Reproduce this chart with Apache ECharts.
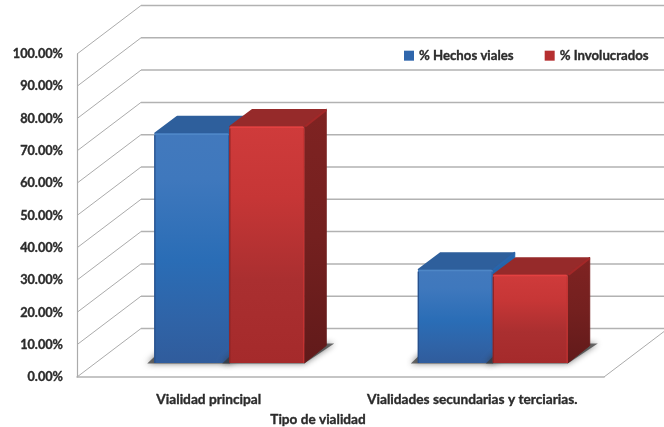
<!DOCTYPE html>
<html>
<head>
<meta charset="utf-8">
<style>html,body{margin:0;padding:0;background:#fff}#c{width:664px;height:427px}</style>
<script src="https://cdn.jsdelivr.net/npm/echarts@6/dist/echarts.min.js"></script>
</head>
<body>
<div id="c"></div>
<script>
const categories = ['Vialidad principal', 'Vialidades secundarias y terciarias.'];
const hechosViales = [71.1, 28.9];
const involucrados = [73.2, 27.3];
const wallTicks = [0, 10, 20, 30, 40, 50, 60, 70, 80, 90, 100];

const WALL_DX = 64, WALL_DY = -48.5;      // depth of the floor / walls
const BAR_BASE_DX = 20.5, BAR_BASE_DY = -14; // where bars stand on the floor
const BAR_DX = 22, BAR_DY = -17.5;        // depth of a bar
const BAR_W = 0.2846;                     // share of the band

const grad = (stops, x2 = 0, y2 = 1) => ({
  type: 'linear', x: 0, y: 0, x2, y2,
  colorStops: stops.map(([offset, color]) => ({ offset, color }))
});

const BLUE = {
  front: grad([[0, '#4279bd'], [0.2, '#3f78bd'], [0.55, '#2a6db6'], [0.8, '#2f64a8'], [1, '#305c9c']]),
  top: '#2e5f9c',
  side: grad([[0, '#2566ae'], [0.5, '#22609f'], [1, '#1f4f86']]),
  edge: '#5088c8', left: '#274f8a', right: '#2a5fa3', slant: '#2a64aa', legend: '#2f66ac'
};
const RED = {
  front: grad([[0, '#cf3b3b'], [0.3, '#c63636'], [0.65, '#aa2f30'], [1, '#a52a2b']]),
  top: '#962a2a',
  side: grad([[0, '#7f2322'], [0.5, '#74201f'], [1, '#611a1a']]),
  edge: '#e64242', left: '#8e2425', right: '#c43332', slant: '#a32828', legend: '#b62f30'
};

function barItem(pal, side) {
  return function (params, api) {
    const p = api.coord([api.value(0), api.value(1)]);
    const zero = api.coord([api.value(0), 0]);
    const w = api.size([1, 0])[0] * BAR_W;
    const x0 = p[0] + BAR_BASE_DX + (side < 0 ? -w : 0);
    const x1 = x0 + w;
    const yT = p[1] + BAR_BASE_DY;
    const yB = zero[1] + BAR_BASE_DY;
    const stroke = (c, lw) => ({ stroke: c, lineWidth: lw, lineJoin: 'round' });
    const children = [
      { type: 'polygon', shape: { points: [[x0 - 7, yB + 0.5], [x1, yB + 0.5], [x1 + BAR_DX + 8, yB + BAR_DY - 2], [x0 + 14, yB + BAR_DY - 2]] },
        style: { fill: 'rgba(55,55,55,0.72)', shadowBlur: 6, shadowColor: 'rgba(50,50,50,0.9)' }, silent: true },
      { type: 'polygon', shape: { points: [[x1, yT], [x1 + BAR_DX, yT + BAR_DY], [x1 + BAR_DX, yB + BAR_DY], [x1, yB]] },
        style: Object.assign({ fill: pal.side }, stroke(pal.side, 1)) },
      { type: 'polygon', shape: { points: [[x0 + 1, yT], [x0 + BAR_DX + 1, yT + BAR_DY + 1], [x1 + BAR_DX - 1, yT + BAR_DY + 1], [x1 - 1, yT]] },
        style: Object.assign({ fill: pal.top }, stroke(pal.top, 2)) },
      { type: 'line', shape: { x1: x1 + 1, y1: yT, x2: x1 + BAR_DX, y2: yT + BAR_DY + 1 },
        style: { stroke: pal.slant, lineWidth: 2 } },
      { type: 'rect', shape: { x: x0, y: yT, width: w, height: yB - yT, r: [2, 2, 1, 1] },
        style: { fill: pal.front } },
      { type: 'line', shape: { x1: x0 + 1, y1: yT + 0.8, x2: x1 - 1, y2: yT + 0.8 },
        style: { stroke: pal.edge, lineWidth: 1.5, opacity: 0.9 } },
      { type: 'line', shape: { x1: x0 + 0.6, y1: yT + 2, x2: x0 + 0.6, y2: yB },
        style: { stroke: pal.left, lineWidth: 1.2 } },
      { type: 'line', shape: { x1: x1 - 0.6, y1: yT + 2, x2: x1 - 0.6, y2: yB },
        style: { stroke: pal.right, lineWidth: 1.2 } }
    ];
    return { type: 'group', children };
  };
}

function wallItem(params, api) {
  const cs = params.coordSys;
  const y = api.coord([0, api.value(0)])[1];
  const children = [
    { type: 'line', shape: { x1: cs.x, y1: y, x2: cs.x + WALL_DX, y2: y + WALL_DY },
      style: { stroke: '#ababab', lineWidth: 1 } },
    { type: 'line', shape: { x1: cs.x + WALL_DX, y1: y + WALL_DY, x2: cs.x + cs.width + WALL_DX, y2: y + WALL_DY },
      style: { stroke: '#b2b2b2', lineWidth: 1.5 } }
  ];
  if (api.value(0) === 0) {
    children.push({ type: 'line', shape: { x1: cs.x + cs.width, y1: y, x2: cs.x + cs.width + WALL_DX, y2: y + WALL_DY },
      style: { stroke: '#ababab', lineWidth: 1 } });
  }
  return { type: 'group', children };
}

const FONT = 'Lato';
const TEXT = { fontFamily: FONT, fontWeight: 'bold', color: '#2b2b2b', textBorderColor: '#2b2b2b', textBorderWidth: 0.35 };
const chart = echarts.init(document.getElementById('c'), null, { renderer: 'canvas' });
chart.setOption({
  animation: false,
  backgroundColor: '#ffffff',
  grid: { left: 77, right: 60, top: 54, bottom: 50, containLabel: false, outerBoundsMode: 'none' },
  legend: {
    left: 404, top: 49, padding: 0, itemWidth: 10, itemHeight: 10, itemGap: 31,
    textStyle: Object.assign({ fontSize: 13.2 }, TEXT),
    data: [
      { name: '% Hechos viales', icon: 'rect', itemStyle: { color: BLUE.legend } },
      { name: '% Involucrados', icon: 'rect', itemStyle: { color: RED.legend } }
    ]
  },
  xAxis: {
    type: 'category', data: categories,
    name: 'Tipo de vialidad', nameLocation: 'middle', nameGap: 34,
    nameTextStyle: Object.assign({ fontSize: 13.6, padding: [0, 45, 0, 0] }, TEXT),
    axisTick: { show: false },
    axisLine: { show: true, lineStyle: { color: '#b2b2b2', width: 1.5 } },
    axisLabel: Object.assign({ fontSize: 13.7, margin: 16, interval: 0 }, TEXT)
  },
  yAxis: {
    type: 'value', min: 0, max: 100, interval: 10,
    axisTick: { show: false },
    axisLine: { show: true, lineStyle: { color: '#ababab', width: 1.2 } },
    splitLine: { show: false },
    axisLabel: Object.assign({ fontSize: 12.7, margin: 14, formatter: v => v.toFixed(2) + '%' }, TEXT)
  },
  series: [
    { type: 'custom', name: 'walls', renderItem: wallItem, data: wallTicks.map(v => [v]),
      encode: { y: 0 }, silent: true, z: 1, clip: false },
    { type: 'custom', name: '% Hechos viales', renderItem: barItem(BLUE, -1),
      data: hechosViales.map((v, i) => [i, v]), encode: { x: 0, y: 1 }, z: 2, clip: false,
      itemStyle: { color: BLUE.legend } },
    { type: 'custom', name: '% Involucrados', renderItem: barItem(RED, 1),
      data: involucrados.map((v, i) => [i, v]), encode: { x: 0, y: 1 }, z: 3, clip: false,
      itemStyle: { color: RED.legend } }
  ]
});
</script>
</body>
</html>
